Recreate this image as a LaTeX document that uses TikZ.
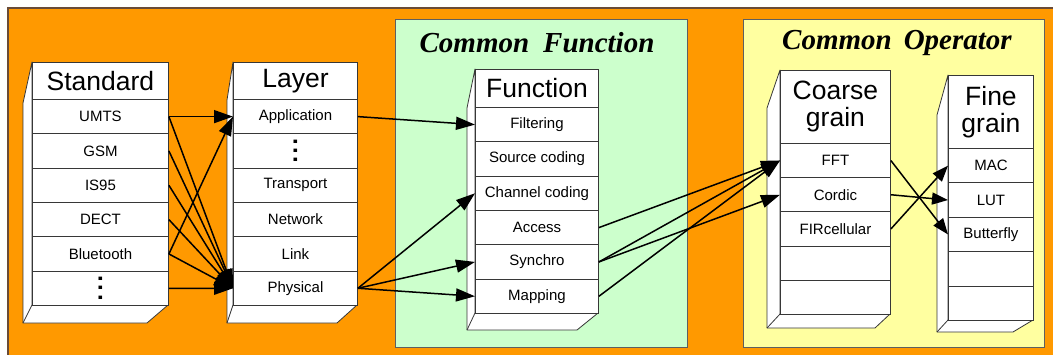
\documentclass[tikz,border=0pt]{standalone}
\usepackage{fontspec}
\setmainfont{Liberation Sans}
\newfontfamily\headserif{Liberation Serif}
\usetikzlibrary{arrows.meta}

\definecolor{bgorange}{RGB}{255,153,0}
\definecolor{panelgreen}{RGB}{204,255,204}
\definecolor{panelyellow}{RGB}{255,255,160}
\definecolor{edgegray}{RGB}{55,55,55}
\definecolor{panelframe}{RGB}{95,95,95}
\definecolor{outerframe}{RGB}{105,75,55}

% side and bottom faces of a stack: xL xR top bottom leftX slantY lowY lowRightX
\newcommand\boxsides[8]{%
  \filldraw[face] (#1,#3) -- (#5,#6) -- (#5,#7) -- (#8,#7) -- (#2,#4) -- (#1,#4) -- cycle;
  \draw[face] (#1,#4) -- (#5,#7);
}
% vertical ellipsis made of three bold periods
\newcommand\vdotrow{\rotatebox{-90}{.\hspace{2.4pt}.\hspace{2.4pt}.}}

\begin{document}
\begin{tikzpicture}[x=1pt, y=-1pt,
  face/.style={draw=edgegray, fill=white, line width=0.8pt, line join=round},
  cell/.style={draw=edgegray, fill=white, line width=0.9pt, inner sep=0pt,
    anchor=north west, font=\fontsize{15}{18}\selectfont},
  headcell/.style={cell, align=center, font=\fontsize{26.5}{27}\selectfont},
  dotscell/.style={cell, font=\bfseries\fontsize{24}{24}\selectfont},
  panel/.style={draw=panelframe, line width=0.9pt},
  paneltitle/.style={font=\headserif\bfseries\itshape\fontsize{29}{32}\selectfont},
  link/.style={-{Triangle[length=19pt,width=13pt]}, line width=1.5pt, black},
  shortlink/.style={-{Triangle[length=16pt,width=12pt]}, line width=1.5pt, black}]

\useasboundingbox (0,0) rectangle (1053,354);
\clip (0,0) rectangle (1053,354);
\fill[white] (0,0) rectangle (1053,354);

% background and panels
\filldraw[fill=bgorange, draw=outerframe, line width=1.2pt] (8,8) rectangle (1070,370);
\filldraw[panel, fill=panelgreen] (395,19) rectangle (687,347);
\filldraw[panel, fill=panelyellow] (743,19) rectangle (1044,347);
\node[paneltitle] (cfTitle) at (537,43) {Common\hspace{14pt}Function};
\node[paneltitle] (coTitle) at (897,43) {Common\hspace{12pt}Operator};

% Standard stack
\boxsides{32}{168}{62}{305}{23}{103}{323}{147}
\node[headcell, minimum width=136pt, minimum height=37pt] (stdHead) at (32,62) {Standard};
\foreach \t [count=\i] in {UMTS,GSM,IS95,DECT,Bluetooth}
  \node[cell, minimum width=136pt, minimum height=34.33pt] (std\i) at (32,{99+(\i-1)*34.33}) {\t};
\node[dotscell, minimum width=136pt, minimum height=34.33pt] (std6) at (32,270.67) {\vdotrow};

% Layer stack
\boxsides{233}{357}{62}{305}{227}{100}{323}{337}
\node[headcell, minimum width=124pt, minimum height=37pt] (layHead) at (233,62) {Layer};
\node[cell, minimum width=124pt, minimum height=34.33pt] (lay1) at (233,99) {Application};
\node[dotscell, minimum width=124pt, minimum height=34.33pt] (lay2) at (233,133.33) {\vdotrow};
\foreach \t [count=\i from 3] in {Transport,Network,Link,Physical}
  \node[cell, minimum width=124pt, minimum height=34.33pt] (lay\i) at (233,{99+(\i-1)*34.33}) {\t};

% Function stack
\boxsides{475}{598}{69}{313}{467}{108}{330}{577}
\node[headcell, minimum width=123pt, minimum height=38pt] (fnHead) at (475,69) {Function};
\foreach \t [count=\i] in {Filtering,Source coding,Channel coding,Access,Synchro,Mapping}
  \node[cell, minimum width=123pt, minimum height=34.33pt] (fn\i) at (475,{107+(\i-1)*34.33}) {\t};

% Coarse grain stack
\boxsides{780}{890}{70}{314}{767}{108}{328}{875}
\node[headcell, minimum width=110pt, minimum height=73pt] (cgHead) at (780,70) {Coarse\\grain};
\foreach \t [count=\i] in {FFT,Cordic,FIRcellular,{},{}}
  \node[cell, minimum width=110pt, minimum height=34.2pt] (cg\i) at (780,{143+(\i-1)*34.2}) {\t};

% Fine grain stack
\boxsides{948}{1033}{75}{320}{937}{115}{332}{1013}
\node[headcell, minimum width=85pt, minimum height=73pt] (fgHead) at (948,75) {Fine\\grain};
\foreach \t [count=\i] in {MAC,LUT,Butterfly,{},{}}
  \node[cell, minimum width=85pt, minimum height=34.4pt] (fg\i) at (948,{148+(\i-1)*34.4}) {\t};

% Standard -> Layer
\draw[link] (std1.east) -- (lay1.west);
\draw[link] (std5.east) -- (lay1.west);
\foreach \i in {1,...,6}
  \draw[link] (std\i.east) -- (lay6.west);

% Layer -> Function
\draw[link] (lay1.east) -- (fn1.west);
\draw[link] (lay6.east) -- (fn3.west);
\draw[link] (lay6.east) -- (fn5.west);
\draw[link] (lay6.east) -- (fn6.west);

% Function -> Coarse grain
\draw[link] (fn4.east) -- (cg1.west);
\draw[link] (fn5.east) -- (cg1.west);
\draw[link] (fn6.east) -- (cg1.west);
\draw[link] (fn5.east) -- (cg2.west);

% Coarse grain -> Fine grain
\draw[shortlink] (cg1.east) -- (fg3.west);
\draw[shortlink] (cg2.east) -- (fg2.west);
\draw[shortlink] (cg3.east) -- (fg1.west);
\end{tikzpicture}
\end{document}
